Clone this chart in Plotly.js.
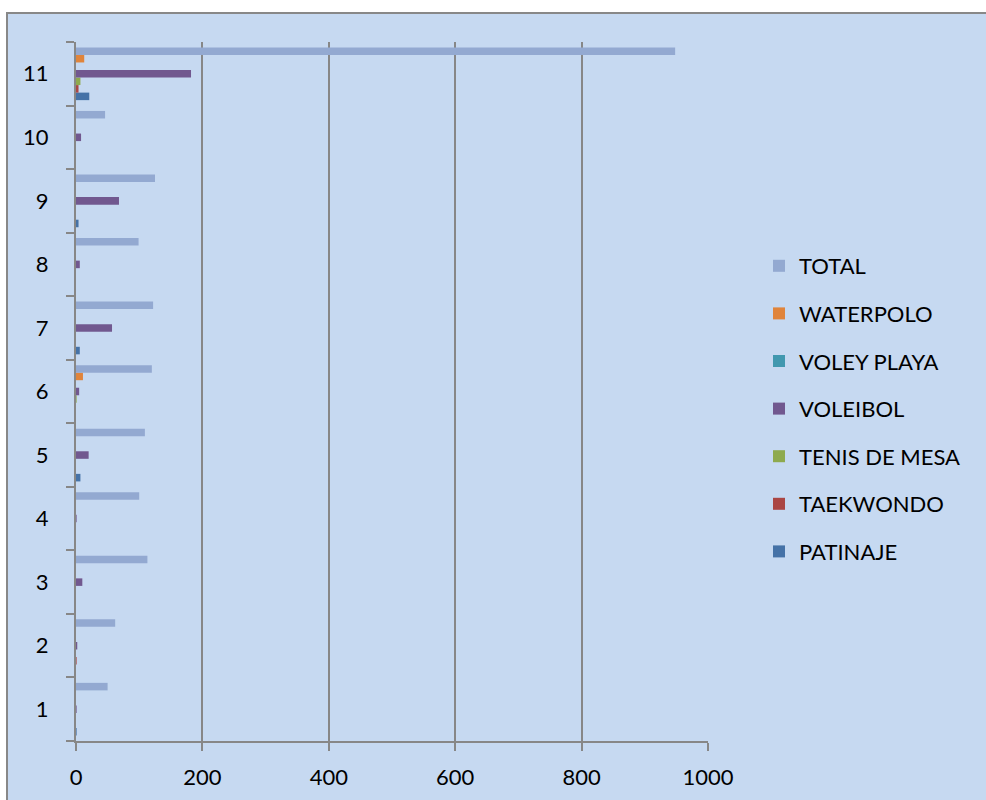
<!DOCTYPE html>
<html>
<head>
<meta charset="utf-8">
<script src="https://cdn.plot.ly/plotly-3.0.1.min.js"></script>
<style>
html,body{margin:0;padding:0;background:#ffffff;overflow:hidden;}
#chart{width:986px;height:800px;}
</style>
</head>
<body>
<div id="chart"></div>
<script>
var categories = ["1","2","3","4","5","6","7","8","9","10","11"];
var seriesNames = ["PATINAJE","TAEKWONDO","TENIS DE MESA","VOLEIBOL","VOLEY PLAYA","WATERPOLO","TOTAL"];
var patinaje    = [1, 0, 0, 0, 7, 0, 6, 0, 4, 0, 21];
var taekwondo   = [0, 1, 0, 0, 0, 0, 0, 0, 0, 0, 4];
var tenisDeMesa = [0, 0, 0, 0, 0, 1, 0, 0, 0, 0, 7];
var voleibol    = [1, 2, 10, 1, 20, 5, 57, 6, 68, 8, 182];
var voleyPlaya  = [0, 0, 0, 0, 0, 0, 0, 0, 0, 0, 0];
var waterpolo   = [0, 0, 0, 0, 0, 11, 0, 0, 0, 0, 13];
var total       = [50, 62, 113, 100, 109, 120, 122, 99, 125, 46, 948];
var xTickVals   = [0, 200, 400, 600, 800, 1000];

var seriesValues = [patinaje, taekwondo, tenisDeMesa, voleibol, voleyPlaya, waterpolo, total];
var colors = ["#4572a7", "#aa4644", "#8eaa4e", "#71588f", "#4198af", "#e0843b", "#93a9d1"];

var data = seriesNames.map(function(name, i){
  return {
    type: "bar",
    orientation: "h",
    name: name,
    legendgroup: "g" + i,
    legendrank: 100 - i,
    y: categories,
    x: seriesValues[i],
    marker: {color: colors[i], line: {width: 0}},
    hoverinfo: "x+name"
  };
});

// plot area: x 76..708, y 42..741
var L = 76, R = 708, T = 42, B = 741;
function px(x){ return (x - L) / (R - L); }
function py(y){ return (B - y) / (B - T); }

var font = "Lato, 'Open Sans', sans-serif";

var layout = {
  width: 986,
  height: 800,
  margin: {l: L, r: 986 - R, t: T, b: 800 - B, pad: 0},
  paper_bgcolor: "#ffffff",
  plot_bgcolor: "rgba(0,0,0,0)",
  barmode: "group",
  bargap: 0.17,
  bargroupgap: 0,
  font: {family: font, size: 22, color: "#000000"},
  showlegend: true,
  legend: {
    x: px(759), xanchor: "left",
    y: py(245), yanchor: "top",
    traceorder: "grouped",
    tracegroupgap: 16,
    bgcolor: "rgba(0,0,0,0)",
    font: {family: font, size: 22, color: "#000000"}
  },
  xaxis: {
    range: [0, 1000],
    tickvals: xTickVals,
    ticktext: xTickVals.map(String),
    showgrid: true,
    gridcolor: "#878787",
    gridwidth: 2,
    zeroline: false,
    showline: true,
    linecolor: "#878787",
    linewidth: 2,
    ticks: "outside",
    ticklen: 8,
    tickwidth: 2,
    tickcolor: "#878787",
    ticklabelstandoff: 8,
    tickfont: {family: font, size: 22, color: "#000000"},
    fixedrange: true
  },
  yaxis: {
    type: "category",
    categoryorder: "array",
    categoryarray: categories,
    range: [-0.5, 10.5],
    showgrid: false,
    zeroline: false,
    showline: true,
    linecolor: "#878787",
    linewidth: 2,
    ticks: "outside",
    tickson: "boundaries",
    ticklen: 8,
    tickwidth: 2,
    tickcolor: "#878787",
    ticklabelstandoff: 21,
    tickfont: {family: font, size: 22, color: "#000000"},
    fixedrange: true
  },
  shapes: [{
    type: "rect",
    xref: "paper", yref: "paper",
    x0: px(7), x1: px(995),
    y0: py(810), y1: py(13),
    fillcolor: "#c6d9f1",
    line: {color: "#888888", width: 2},
    layer: "below"
  }]
};

Plotly.newPlot("chart", data, layout, {displayModeBar: false, staticPlot: true});
</script>
</body>
</html>
